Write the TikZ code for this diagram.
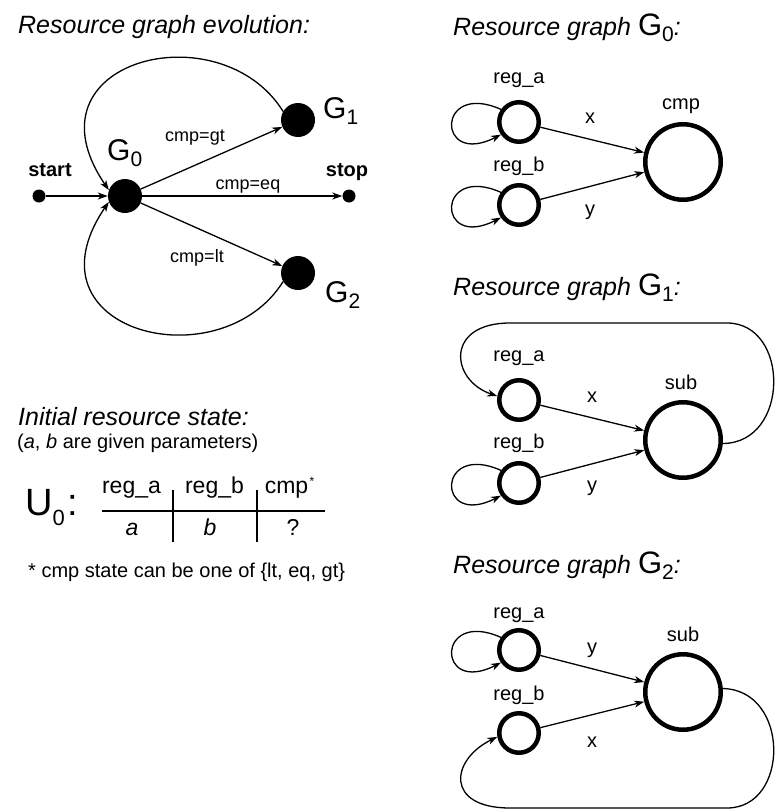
\documentclass[tikz,border=0pt]{standalone}
\usepackage{fontspec}
\setmainfont{Liberation Sans}
\usetikzlibrary{arrows.meta}
\newcommand\fsz[1]{\fontsize{#1}{#1}\selectfont}
\newcommand\Gsub[2]{G\raisebox{-6pt}{\fsz{#1}#2}}
\begin{document}
\begin{tikzpicture}[x=1pt,y=-1pt,
  conn/.style={line width=1.3pt,-{Stealth[length=10pt,width=7pt,inset=3pt]}},
  dotbig/.style={circle,fill=black,inner sep=0pt,minimum size=34pt},
  dotsmall/.style={circle,fill=black,inner sep=0pt,minimum size=13pt},
  res/.style={circle,draw,line width=4.5pt,inner sep=0pt,minimum size=39.5pt},
  resbig/.style={circle,draw,line width=4.5pt,inner sep=0pt,minimum size=75.5pt},
  lbl/.style={inner sep=0pt,font=\fsz{20}},
  elbl/.style={inner sep=0pt,anchor=base,font=\fsz{18}},
  ttl/.style={inner sep=0pt,anchor=base west,font=\fsz{25}\itshape},
  bigG/.style={inner sep=0pt,anchor=base west,font=\fsz{30}},
  endlbl/.style={inner sep=0pt,anchor=base,font=\fsz{20}\bfseries},
  rule/.style={line width=1.3pt},
]
\useasboundingbox (0,0) rectangle (775,811);

% ---------- left: evolution graph ----------
\node[ttl] (title) at (18,33) {Resource graph evolution:};

\node[dotsmall] (start) at (39,196) {};
\node[dotbig] (g0) at (125,196) {};
\node[dotbig] (g1) at (298,120) {};
\node[dotbig] (g2) at (298,273) {};
\node[dotsmall] (stop) at (349,196) {};

\node[endlbl] (startl) at (50,176) {start};
\node[endlbl] (stopl) at (347,176) {stop};
\node[bigG] (g0l) at (107,160) {\Gsub{21}{0}};
\node[bigG] (g1l) at (323,118) {\Gsub{21}{1}};
\node[bigG] (g2l) at (325,302) {\Gsub{21}{2}};

\node[elbl] (lgt) at (195,141) {cmp=gt};
\node[elbl] (leq) at (248,189) {cmp=eq};
\node[elbl] (llt) at (197,262) {cmp=lt};

\draw[conn] (start) -- (g0);
\draw[conn] (g0) -- (g1);
\draw[conn] (g0) -- (stop);
\draw[conn] (g0) -- (g2);
\draw[conn] (g1.150) .. controls (220,10) and (20,60) .. (g0.160);
\draw[conn] (g2.210) .. controls (220,382) and (20,332) .. (g0.200);

% ---------- left: initial state ----------
\node[ttl] (init) at (18,425) {Initial resource state:};
\node[lbl,anchor=base west] (param) at (17,448) {(\textit{a}, \textit{b} are given parameters)};
\node[inner sep=0pt,anchor=base west,font=\fsz{38}] (u0) at (25,515) {U\raisebox{-10pt}{\fsz{22}0}\kern3pt:};

\node[inner sep=0pt,anchor=base,font=\fsz{23}] (h1) at (131.5,493) {reg\_a};
\node[inner sep=0pt,anchor=base,font=\fsz{23}] (h2) at (214.5,493) {reg\_b};
\node[inner sep=0pt,anchor=base,font=\fsz{23}] (h3) at (286.5,493) {cmp};
\node[inner sep=0pt,font=\fsz{12}] (star) at (312,481) {*};
\node[inner sep=0pt,anchor=base,font=\fsz{23}\itshape] (v1) at (132,535) {a};
\node[inner sep=0pt,anchor=base,font=\fsz{23}\itshape] (v2) at (210,535) {b};
\node[inner sep=0pt,anchor=base,font=\fsz{23}] (v3) at (293,535) {?};
\draw[rule] (102,511) -- (325,511);
\draw[rule] (173,490) -- (173,542);
\draw[rule] (257,490) -- (257,542);

\node[lbl,anchor=base west] (note) at (28,577) {* cmp state can be one of \{lt, eq, gt\}};

% ---------- right: G0 ----------
\node[ttl] (t0) at (453,35) {Resource graph {\upshape\fsz{31}\Gsub{21}{0}}:};
\node[res] (a0) at (519,122) {};
\node[res] (b0) at (519,205) {};
\node[resbig] (c0) at (683,162) {};
\node[lbl] (a0l) at (519,80) {reg\_a};
\node[lbl] (b0l) at (519,166) {reg\_b};
\node[lbl] (c0l) at (681,106) {cmp};
\node[lbl] (x0) at (590,118) {x};
\node[lbl] (y0) at (590,212) {y};
\draw[conn] (a0) -- (c0);
\draw[conn] (b0) -- (c0);
\draw[conn] (a0.145) .. controls +(-65,-29) and +(-65,33) .. (a0.215);
\draw[conn] (b0.145) .. controls +(-65,-29) and +(-65,33) .. (b0.215);

% ---------- right: G1 ----------
\node[ttl] (t1) at (453,295) {Resource graph {\upshape\fsz{31}\Gsub{21}{1}}:};
\node[res] (a1) at (519,400) {};
\node[res] (b1) at (519,483) {};
\node[resbig] (c1) at (683,440) {};
\node[lbl] (a1l) at (519,358) {reg\_a};
\node[lbl] (b1l) at (519,443) {reg\_b};
\node[lbl] (c1l) at (681,382) {sub};
\node[lbl] (x1) at (592,397) {x};
\node[lbl] (y1) at (592,488) {y};
\draw[conn] (a1) -- (c1);
\draw[conn] (b1) -- (c1);
\draw[conn] (b1.145) .. controls +(-65,-29) and +(-65,33) .. (b1.215);
\draw[conn] (c1.-5) .. controls (790,443) and (790,323) .. (727,323) -- (510,323)
   .. controls (445,323) and (450,380) .. (a1.170);

% ---------- right: G2 ----------
\node[ttl] (t2) at (453,573) {Resource graph {\upshape\fsz{31}\Gsub{21}{2}}:};
\node[res] (a2) at (519,650) {};
\node[res] (b2) at (519,733) {};
\node[resbig] (c2) at (683,692) {};
\node[lbl] (a2l) at (519,615) {reg\_a};
\node[lbl] (b2l) at (519,695) {reg\_b};
\node[lbl] (c2l) at (683,634) {sub};
\node[lbl] (y2) at (592,650) {y};
\node[lbl] (x2) at (592,742) {x};
\draw[conn] (a2) -- (c2);
\draw[conn] (b2) -- (c2);
\draw[conn] (a2.145) .. controls +(-65,-29) and +(-65,33) .. (a2.215);
\draw[conn] (c2.5) .. controls (790,690) and (790,808) .. (727,808) -- (510,808)
   .. controls (445,808) and (450,760) .. (b2.190);
\end{tikzpicture}
\end{document}
